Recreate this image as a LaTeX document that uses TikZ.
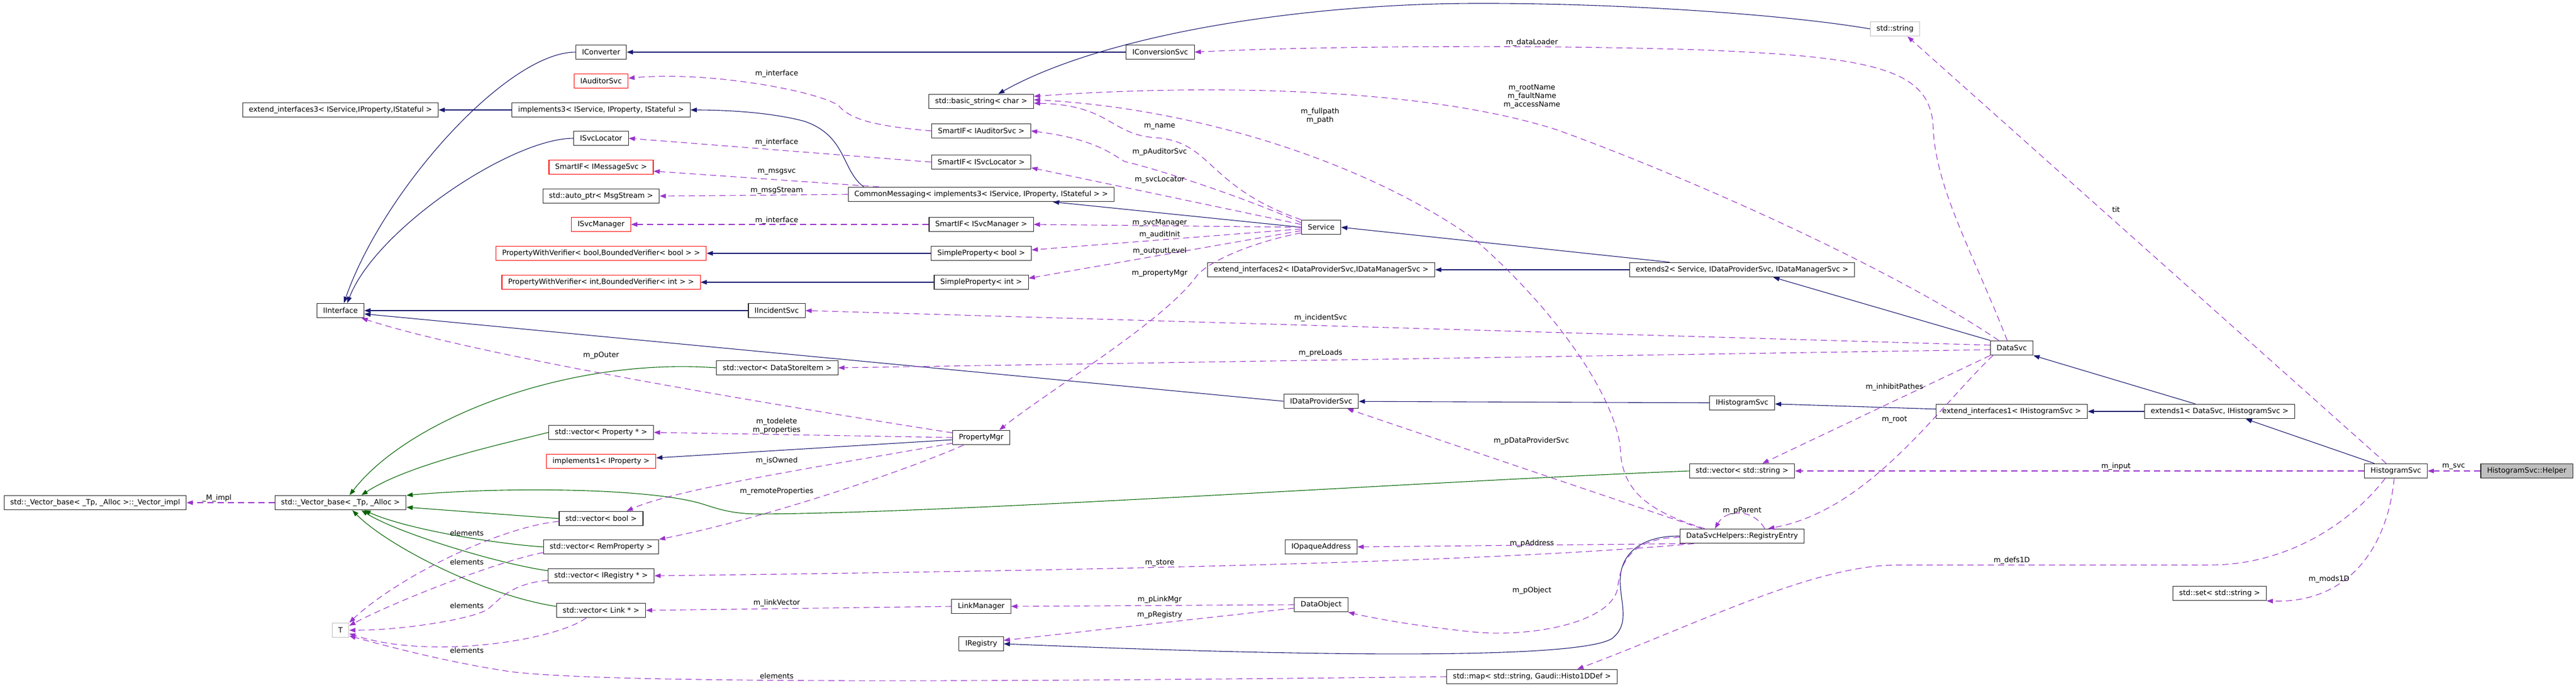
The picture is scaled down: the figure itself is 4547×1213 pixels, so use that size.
\documentclass[tikz,border=0pt]{standalone}
\usepackage{fontspec}
\setmainfont{DejaVu Sans}
\usetikzlibrary{arrows.meta,calc}
\definecolor{blu}{RGB}{25,25,112}
\definecolor{verde}{RGB}{0,100,0}
\definecolor{viola}{RGB}{154,50,205}
\definecolor{grigio}{RGB}{191,191,191}
\newcommand\carattere{\fontsize{12.8}{15}\selectfont}
\tikzset{
>={Triangle[length=11pt,width=8pt]},
classe/.style={draw=black!85,fill=white,line width=1.1pt,inner xsep=11pt,inner ysep=0pt,minimum height=25.5pt},
classe rossa/.style={classe,draw=red},
classe grigia/.style={classe,draw=grigio},
classe attiva/.style={classe,fill=grigio},
etichetta/.style={inner sep=0pt,align=center},
eredita/.style={->,color=blu,line width=1.1pt},
protetta/.style={->,color=verde,line width=1.1pt},
uso/.style={->,color=viola,line width=1.1pt,dash pattern=on 11pt off 7pt}}

\begin{document}
\begin{tikzpicture}[x=1pt,y=-1pt,font=\carattere]
\useasboundingbox (0,0) rectangle (4547,1213);

\node[classe] (vecimpl) at (168,887) {std::\_Vector\_base< \_Tp, \_Alloc >::\_Vector\_impl};
\node[classe] (vecbase) at (601,887) {std::\_Vector\_base< \_Tp, \_Alloc >};
\node[classe] (extif3) at (601,194) {extend\_interfaces3< IService,IProperty,IStateful >};
\node[classe] (iinterface) at (601,548) {IInterface};
\node[classe grigia] (T) at (601,1112) {T};

\node[classe] (iconverter) at (1061,92) {IConverter};
\node[classe rossa] (iauditor) at (1061,143) {IAuditorSvc};
\node[classe] (impl3) at (1061,194) {implements3< IService, IProperty, IStateful >};
\node[classe] (isvcloc) at (1061,244) {ISvcLocator};
\node[classe rossa] (smsg) at (1061,295) {SmartIF< IMessageSvc >};
\node[classe] (autoptr) at (1061,346) {std::auto\_ptr< MsgStream >};
\node[classe rossa] (isvcmgr) at (1061,396) {ISvcManager};
\node[classe rossa] (pwvbool) at (1061,447) {PropertyWithVerifier< bool,BoundedVerifier< bool > >};
\node[classe rossa] (pwvint) at (1061,498) {PropertyWithVerifier< int,BoundedVerifier< int > >};
\node[classe] (vprop) at (1061,763) {std::vector< Property * >};
\node[classe rossa] (impl1) at (1061,814) {implements1< IProperty >};
\node[classe] (vbool) at (1061,915) {std::vector< bool >};
\node[classe] (vrem) at (1061,965) {std::vector< RemProperty >};
\node[classe] (vreg) at (1061,1016) {std::vector< IRegistry * >};
\node[classe] (vlink) at (1061,1077) {std::vector< Link * >};

\node[classe] (iincident) at (1371,548) {IIncidentSvc};
\node[classe] (vdsi) at (1372,649) {std::vector< DataStoreItem >};

\node[classe] (bstring) at (1732,179) {std::basic\_string< char >};
\node[classe] (saud) at (1732,231) {SmartIF< IAuditorSvc >};
\node[classe] (sloc) at (1732,286) {SmartIF< ISvcLocator >};
\node[classe] (cmsg) at (1732,343) {CommonMessaging< implements3< IService, IProperty, IStateful > >};
\node[classe] (smgr) at (1732,396) {SmartIF< ISvcManager >};
\node[classe] (spbool) at (1732,447) {SimpleProperty< bool >};
\node[classe] (spint) at (1732,498) {SimpleProperty< int >};
\node[classe] (pmgr) at (1732,772) {PropertyMgr};
\node[classe] (linkmgr) at (1732,1070) {LinkManager};
\node[classe] (ireg) at (1732,1136) {IRegistry};

\node[classe] (iconvsvc) at (2048,92) {IConversionSvc};
\node[classe] (service) at (2332,401) {Service};
\node[classe] (extif2) at (2332,476) {extend\_interfaces2< IDataProviderSvc,IDataManagerSvc >};
\node[classe] (idp) at (2332,708) {IDataProviderSvc};
\node[classe] (iopaque) at (2332,965) {IOpaqueAddress};
\node[classe] (dobj) at (2332,1067) {DataObject};
\node[classe] (smap) at (2704,1194) {std::map< std::string, Gaudi::Histo1DDef >};

\node[classe] (ext2) at (3075,476) {extends2< Service, IDataProviderSvc, IDataManagerSvc >};
\node[classe] (ihist) at (3075,711) {IHistogramSvc};
\node[classe] (vstring) at (3075,831) {std::vector< std::string >};
\node[classe] (regentry) at (3075,946) {DataSvcHelpers::RegistryEntry};
\node[classe grigia] (string) at (3345,51) {std::string};
\node[classe] (datasvc) at (3551,614) {DataSvc};
\node[classe] (extif1) at (3551,726) {extend\_interfaces1< IHistogramSvc >};
\node[classe] (ext1) at (3918,726) {extends1< DataSvc, IHistogramSvc >};
\node[classe] (sset) at (3918,1047) {std::set< std::string >};
\node[classe] (histsvc) at (4229,831) {HistogramSvc};
\node[classe attiva] (helper) at (4460,831) {HistogramSvc::Helper};

\path[eredita]
	(impl3) edge (extif3)
	(iconvsvc) edge (iconverter)
	(iincident) edge (iinterface)
	(idp.west) edge (iinterface.352)
	(spbool) edge (pwvbool)
	(spint) edge (pwvint)
	(service.west) edge (cmsg.354.5)
	([yshift=-4pt]pmgr.west) edge ([yshift=6pt]impl1.east)
	(ext2) edge (extif2)
	(ihist) edge (idp)
	(extif1) edge (ihist)
	(ext1) edge (extif1)
	([xshift=-128pt]ext2.north) edge (service.east)
	(datasvc.north west) edge ([xshift=55pt]ext2.south)
	([xshift=-43pt]ext1.north) edge (datasvc.south east)
	([xshift=-38pt]histsvc.north) edge ([xshift=46pt]ext1.south);
\draw[eredita] (iconverter.west) .. controls +(-120,0) and +(70,-200) .. ([xshift=6pt]iinterface.north);
\draw[eredita] (isvcloc.west) .. controls +(-110,0) and +(50,-130) .. ([xshift=12pt]iinterface.north);
\draw[eredita] (string.west) .. controls (3150,25) and (2850,5) .. (2600,6) .. controls (2300,7) and (1950,60) .. ([xshift=30pt]bstring.north);
\draw[eredita] ([xshift=28pt]cmsg.north west) .. controls (1485,300) and (1495,240) .. (1420,214) .. controls (1360,198) and (1280,194) .. (impl3.east);
\draw[eredita] (regentry.west) .. controls (2900,945) and (2862,975) .. (2860,1020) .. controls (2858,1060) and (2880,1100) .. (2845,1127) .. controls (2790,1160) and (2400,1162) .. (ireg.east);

\path[protetta] (vbool.west) edge ([yshift=-8pt]vecbase.east);
\draw[protetta] (vdsi.west) .. controls (1000,630) and (720,740) .. ([xshift=16pt]vecbase.north);
\draw[protetta] (vprop.west) .. controls (880,785) and (720,820) .. ([xshift=37pt]vecbase.north);
\draw[protetta] (vstring.west) .. controls (2500,850) and (1700,905) .. (1341,907) .. controls (1290,907) and (1265,897) .. (1239,889) .. controls (1150,862) and (900,858) .. ([yshift=13pt]vecbase.east);
\draw[protetta] (vrem.west) .. controls (880,960) and (720,935) .. ([xshift=42pt]vecbase.south);
\draw[protetta] ([yshift=9pt]vreg.west) .. controls (880,995) and (700,940) .. ([xshift=37pt]vecbase.south);
\draw[protetta] ([yshift=7pt]vlink.west) .. controls (850,1050) and (680,960) .. ([xshift=21pt]vecbase.south);

\path[uso]
	(vecbase) edge (vecimpl)
	(pmgr.west) edge (vprop.east)
	([yshift=5pt]service.west) edge ([yshift=-10pt]sloc.east)
	(service.west) edge (smgr.east)
	([yshift=-3pt]service.west) edge ([yshift=6pt]spbool.east)
	([yshift=-6pt]service.west) edge ([yshift=7pt]spint.east)
	(sloc.west) edge (isvcloc.east)
	([xshift=55pt]cmsg.north west) edge ([yshift=-7pt]smsg.east)
	(cmsg.west) edge (autoptr.east)
	(smgr.west) edge (isvcmgr.east)
	([yshift=5pt]datasvc.west) edge (iincident.east)
	([yshift=-3pt]datasvc.west) edge (vdsi.east)
	(datasvc.south west) edge ([xshift=36pt]vstring.north)
	([xshift=-71pt]regentry.north) edge ([xshift=46pt]idp.south)
	([xshift=10pt]regentry.south west) edge (iopaque.east)
	(dobj.west) edge (linkmgr.east)
	([yshift=-6pt]dobj.west) edge ([yshift=6pt]ireg.east)
	(linkmgr.west) edge (vlink.east)
	([xshift=-17pt]histsvc.north) edge ([xshift=22pt]string.south)
	(histsvc) edge (vstring)
	(helper) edge (histsvc);
\draw[uso] ([yshift=-5pt]vbool.west) .. controls (880,930) and (700,1020) .. (T.north east);
\draw[uso] ([yshift=-10pt]vrem.west) .. controls (880,990) and (700,1060) .. ([yshift=8pt]T.east);
\draw[uso] ([yshift=-8pt]vreg.west) .. controls (900,1030) and (880,1060) .. (861,1075) .. controls (840,1090) and (720,1112) .. (T.east);
\draw[uso] ([xshift=-26pt]vlink.south) .. controls (980,1130) and (760,1165) .. ([yshift=-6pt]T.east);
\draw[uso] (smap.west) .. controls (2000,1200) and (1100,1210) .. (900,1185) .. controls (800,1170) and (700,1145) .. ([yshift=-10pt]T.east);
\draw[uso] ([yshift=-5pt]pmgr.north west) .. controls (1400,720) and (850,630) .. ([xshift=-5pt]iinterface.south east);
\draw[uso] ([yshift=-10pt]pmgr.west) .. controls (1500,815) and (1200,860) .. ([xshift=45pt]vbool.north);
\draw[uso] ([xshift=-31pt]pmgr.south) .. controls (1600,830) and (1350,915) .. (vrem.north east);
\draw[uso] ([yshift=-10pt]service.west) .. controls (2220,425) and (2130,460) .. (2110,490) .. controls (2050,570) and (1850,690) .. ([xshift=32pt]pmgr.north);
\draw[uso] (service.north west) .. controls (2130,330) and (2140,250) .. (2040,243) .. controls (1960,238) and (1960,185) .. ([yshift=-3pt]bstring.east);
\draw[uso] ([yshift=8pt]service.west) .. controls (2200,350) and (2050,300) .. (1985,285) .. controls (1960,270) and (1930,245) .. (saud.east);
\draw[uso] (saud.west) .. controls (1540,222) and (1500,210) .. (1480,186) .. controls (1440,160) and (1250,125) .. ([yshift=5pt]iauditor.east);
\draw[uso] ([xshift=-8pt]datasvc.north) .. controls (3480,440) and (3415,330) .. (3412,220) .. controls (3405,120) and (3300,100) .. (3000,88) .. controls (2700,78) and (2300,82) .. (iconvsvc.east);
\draw[uso] ([xshift=-23pt]datasvc.north) .. controls (3350,480) and (3000,320) .. (2748,229) .. controls (2500,150) and (2100,150) .. ([yshift=9pt]bstring.east);
\draw[uso] ([xshift=-66pt]regentry.north) .. controls (2900,900) and (2862,860) .. (2860,790) .. controls (2850,700) and (2750,550) .. (2600,420) .. controls (2400,280) and (2100,190) .. ([yshift=3pt]bstring.east);
\draw[uso] ([xshift=5pt]datasvc.south west) .. controls (3420,720) and (3300,900) .. ([xshift=46pt]regentry.north);
\draw[uso] ([xshift=40pt]regentry.north) .. controls +(-20,-35) and +(20,-35) .. ([xshift=-48pt]regentry.north);
\draw[uso] ([xshift=25pt]regentry.south west) .. controls (2600,995) and (1800,1008) .. (vreg.east);
\draw[uso] ([yshift=-2pt]regentry.west) .. controls (2880,950) and (2860,990) .. (2855,1040) .. controls (2840,1100) and (2700,1125) .. (2600,1115) .. controls (2500,1105) and (2420,1090) .. (dobj.south east);
\draw[uso] ([xshift=-19pt]histsvc.south) .. controls (4160,910) and (4050,997) .. (3900,997) -- (3350,997) .. controls (3200,997) and (3000,1100) .. ([xshift=80pt]smap.north);
\draw[uso] ([xshift=-3pt]histsvc.south) .. controls (4215,960) and (4150,1065) .. (sset.south east);

\node[etichetta] (lmimpl) at (383,879) {\_M\_impl};
\node[etichetta] (lel1) at (824,941) {elements};
\node[etichetta] (lel2) at (824,992) {elements};
\node[etichetta] (lel3) at (824,1069) {elements};
\node[etichetta] (lel4) at (824,1148) {elements};
\node[etichetta] (lel5) at (1371,1193) {elements};
\node[etichetta] (lint1) at (1371,130) {m\_interface};
\node[etichetta] (lint2) at (1371,251) {m\_interface};
\node[etichetta] (lint3) at (1371,389) {m\_interface};
\node[etichetta] (lmsgsvc) at (1371,303) {m\_msgsvc};
\node[etichetta] (lmsgstream) at (1371,336) {m\_msgStream};
\node[etichetta] (lpouter) at (1061,627) {m\_pOuter};
\node[etichetta] (ltodelete) at (1371,752) {m\_todelete\\m\_properties};
\node[etichetta] (lisowned) at (1371,813) {m\_isOwned};
\node[etichetta] (lremote) at (1371,867) {m\_remoteProperties};
\node[etichetta] (llinkvec) at (1371,1064) {m\_linkVector};
\node[etichetta] (lname) at (2047,223) {m\_name};
\node[etichetta] (lpaud) at (2047,268) {m\_pAuditorSvc};
\node[etichetta] (lsvcloc) at (2047,317) {m\_svcLocator};
\node[etichetta] (lsvcmgr) at (2047,393) {m\_svcManager};
\node[etichetta] (lauditinit) at (2047,414) {m\_auditInit};
\node[etichetta] (loutput) at (2047,443) {m\_outputLevel};
\node[etichetta] (lpropmgr) at (2047,482) {m\_propertyMgr};
\node[etichetta] (lfullpath) at (2330,205) {m\_fullpath\\m\_path};
\node[etichetta] (lloader) at (2704,75) {m\_dataLoader};
\node[etichetta] (lrootname) at (2704,170) {m\_rootName\\m\_faultName\\m\_accessName};
\node[etichetta] (lincident) at (2331,561) {m\_incidentSvc};
\node[etichetta] (lpreloads) at (2331,623) {m\_preLoads};
\node[etichetta] (lpdp) at (2703,778) {m\_pDataProviderSvc};
\node[etichetta] (lstore) at (2047,994) {m\_store};
\node[etichetta] (lplink) at (2047,1058) {m\_pLinkMgr};
\node[etichetta] (lpreg) at (2047,1085) {m\_pRegistry};
\node[etichetta] (lparent) at (3075,901) {m\_pParent};
\node[etichetta] (lpaddr) at (2704,959) {m\_pAddress};
\node[etichetta] (lpobj) at (2704,1042) {m\_pObject};
\node[etichetta] (ltit) at (3735,370) {tit};
\node[etichetta] (linhibit) at (3344,683) {m\_inhibitPathes};
\node[etichetta] (lroot) at (3344,741) {m\_root};
\node[etichetta] (linput) at (3735,823) {m\_input};
\node[etichetta] (ldefs) at (3551,989) {m\_defs1D};
\node[etichetta] (lsvc) at (4331,823) {m\_svc};
\node[etichetta] (lmods) at (4111,1022) {m\_mods1D};
\end{tikzpicture}
\end{document}
